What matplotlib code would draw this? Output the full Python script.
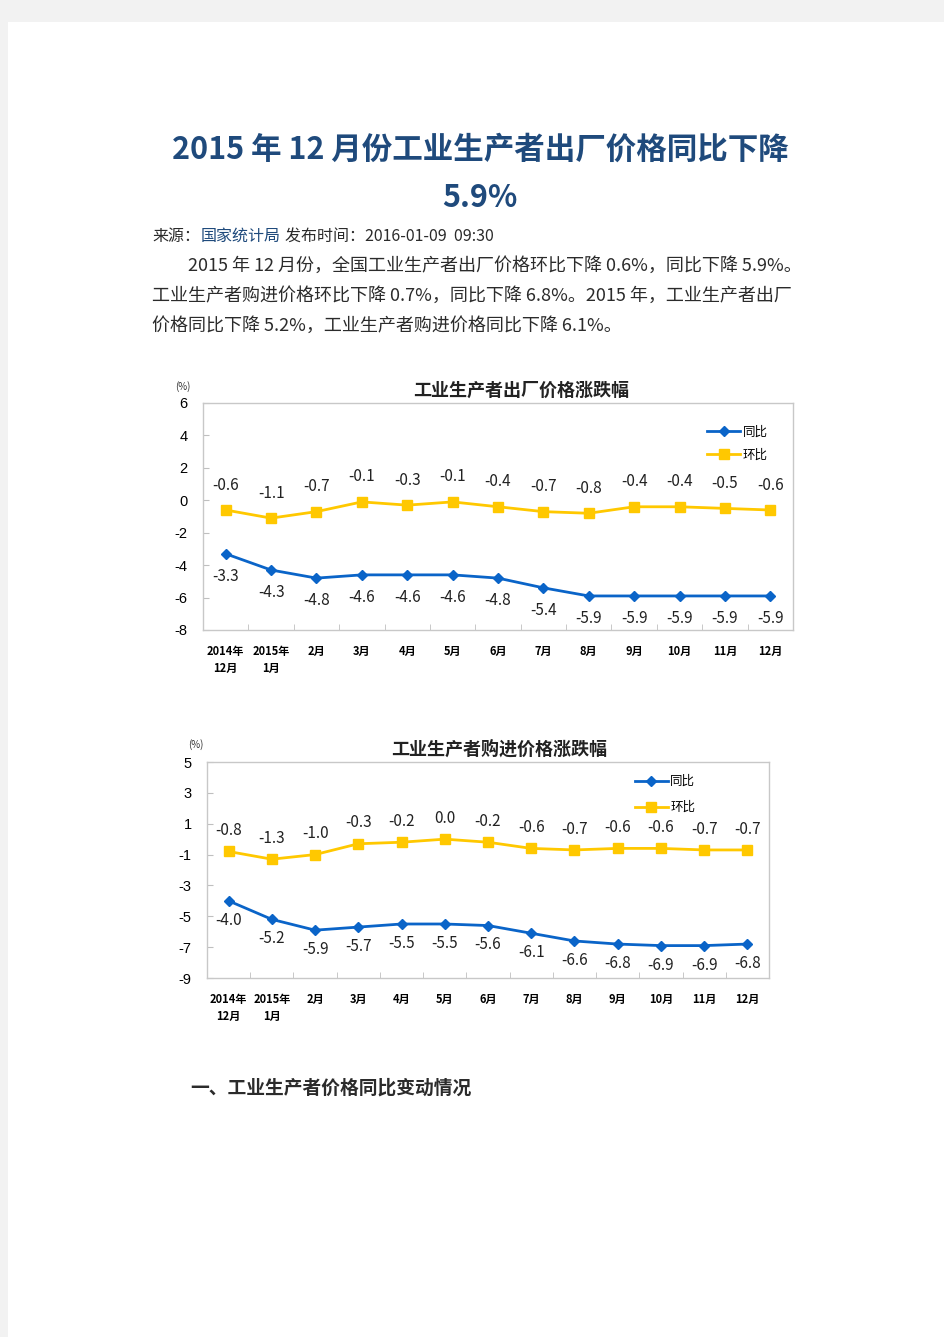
import matplotlib
matplotlib.use("Agg")
import matplotlib.pyplot as plt
from matplotlib.patches import Rectangle

plt.rcParams['font.family'] = ['Noto Sans CJK SC', 'DejaVu Sans']

W, H = 945, 1337

months = ["2014年\n12月", "2015年\n1月", "2月", "3月", "4月", "5月", "6月",
          "7月", "8月", "9月", "10月", "11月", "12月"]

# 出厂价格
ppi_yoy = [-3.3, -4.3, -4.8, -4.6, -4.6, -4.6, -4.8, -5.4, -5.9, -5.9, -5.9, -5.9, -5.9]
ppi_mom = [-0.6, -1.1, -0.7, -0.1, -0.3, -0.1, -0.4, -0.7, -0.8, -0.4, -0.4, -0.5, -0.6]

# 购进价格
ppirm_yoy = [-4.0, -5.2, -5.9, -5.7, -5.5, -5.5, -5.6, -6.1, -6.6, -6.8, -6.9, -6.9, -6.8]
ppirm_mom = [-0.8, -1.3, -1.0, -0.3, -0.2, 0.0, -0.2, -0.6, -0.7, -0.6, -0.6, -0.7, -0.7]

BLUE = "#0a64c8"
YELLOW = "#ffc800"
TITLE_BLUE = "#1f4a7c"
TEXT = "#2b2b2b"


def fx(x):
    return x / W


def fy(y):
    return 1 - y / H


def box(left, top, right, bottom):
    return [fx(left), fy(bottom), (right - left) / W, (bottom - top) / H]


fig = plt.figure(figsize=(W / 100, H / 100), dpi=100)
fig.patch.set_facecolor("#f2f2f2")
fig.patches.append(Rectangle((fx(8), 0), 1 - fx(8), fy(22), transform=fig.transFigure,
                             facecolor="white", edgecolor="none", zorder=-5))

# header text
fig.text(fx(480), fy(150), "2015 年 12 月份工业生产者出厂价格同比下降", ha="center", va="center",
         fontsize=22, fontweight="bold", color=TITLE_BLUE)
fig.text(fx(480), fy(198), "5.9%", ha="center", va="center",
         fontsize=22, fontweight="bold", color=TITLE_BLUE)

fig.text(fx(152), fy(236), "来源：", ha="left", va="center", fontsize=11.5, color=TEXT)
fig.text(fx(201), fy(236), "国家统计局", ha="left", va="center", fontsize=11.5, color=TITLE_BLUE)
fig.text(fx(285), fy(236), "发布时间：2016-01-09  09:30", ha="left", va="center", fontsize=11.5, color=TEXT)

body = [
    (188, 266, "2015 年 12 月份，全国工业生产者出厂价格环比下降 0.6%，同比下降 5.9%。"),
    (152, 296, "工业生产者购进价格环比下降 0.7%，同比下降 6.8%。2015 年，工业生产者出厂"),
    (152, 326, "价格同比下降 5.2%，工业生产者购进价格同比下降 6.1%。"),
]
for x, y, s in body:
    fig.text(fx(x), fy(y), s, ha="left", va="center", fontsize=13, color=TEXT)

fig.text(fx(190), fy(1088), "一、工业生产者价格同比变动情况", ha="left", va="center",
         fontsize=13.5, fontweight="bold", color=TEXT)


def draw_chart(rect, yoy, mom, ylim, yticks, title, title_xy, pct_xy, leg_anchor, leg_space,
               off_up, off_dn):
    ax = fig.add_axes(rect)
    ax.set_zorder(2)
    x = range(len(months))
    ax.plot(x, yoy, color=BLUE, lw=2, marker="D", ms=5, label="同比", zorder=3)
    ax.plot(x, mom, color=YELLOW, lw=2, marker="s", ms=6.5, label="环比", zorder=3)

    for i, v in enumerate(mom):
        ax.annotate(f"{v:.1f}", (i, v), xytext=(0, off_up), textcoords="offset points",
                    ha="center", va="center", fontsize=11, color="#222222")
    for i, v in enumerate(yoy):
        ax.annotate(f"{v:.1f}", (i, v), xytext=(0, -off_dn), textcoords="offset points",
                    ha="center", va="center", fontsize=11, color="#222222")

    ax.set_xlim(-0.5, len(months) - 0.5)
    ax.set_ylim(*ylim)
    ax.set_yticks(yticks)
    ax.set_yticklabels([str(t) for t in yticks], fontsize=10.5, family="Liberation Sans")
    ax.set_xticks(list(x))
    ax.set_xticklabels(months, fontsize=8, fontweight="bold", linespacing=1.35)
    ax.set_xticks([i + 0.5 for i in range(len(months) - 1)], minor=True)
    ax.tick_params(axis="x", which="major", length=0, pad=11)
    ax.tick_params(axis="x", which="minor", length=4, direction="in", color="#bfbfbf")
    ax.tick_params(axis="y", length=4, direction="in", color="#bfbfbf", pad=11)
    for sp in ax.spines.values():
        sp.set_color("#c8c8c8")
        sp.set_linewidth(1)

    ax.legend(loc="upper left", bbox_to_anchor=leg_anchor, frameon=False, fontsize=9,
              handlelength=2.6, handletextpad=0.2, labelspacing=leg_space, borderpad=0,
              borderaxespad=0)

    fig.text(fx(title_xy[0]), fy(title_xy[1]), title, ha="center", va="center",
             fontsize=13, fontweight="bold", color="#222222")
    fig.text(fx(pct_xy[0]), fy(pct_xy[1]), "(%)", ha="center", va="center",
             fontsize=7, color="#333333")
    return ax


draw_chart(box(203, 403, 793, 630), ppi_yoy, ppi_mom, (-8, 6), list(range(6, -9, -2)),
           "工业生产者出厂价格涨跌幅", (521, 390), (183, 387), (0.855, 0.90), 0.8, 18, 16)

draw_chart(box(207, 762, 769, 978), ppirm_yoy, ppirm_mom, (-9, 5), list(range(5, -10, -2)),
           "工业生产者购进价格涨跌幅", (499, 749), (196, 745), (0.762, 0.94), 1.05, 15, 14)

fig.savefig("out.png", dpi=100, facecolor=fig.get_facecolor())
